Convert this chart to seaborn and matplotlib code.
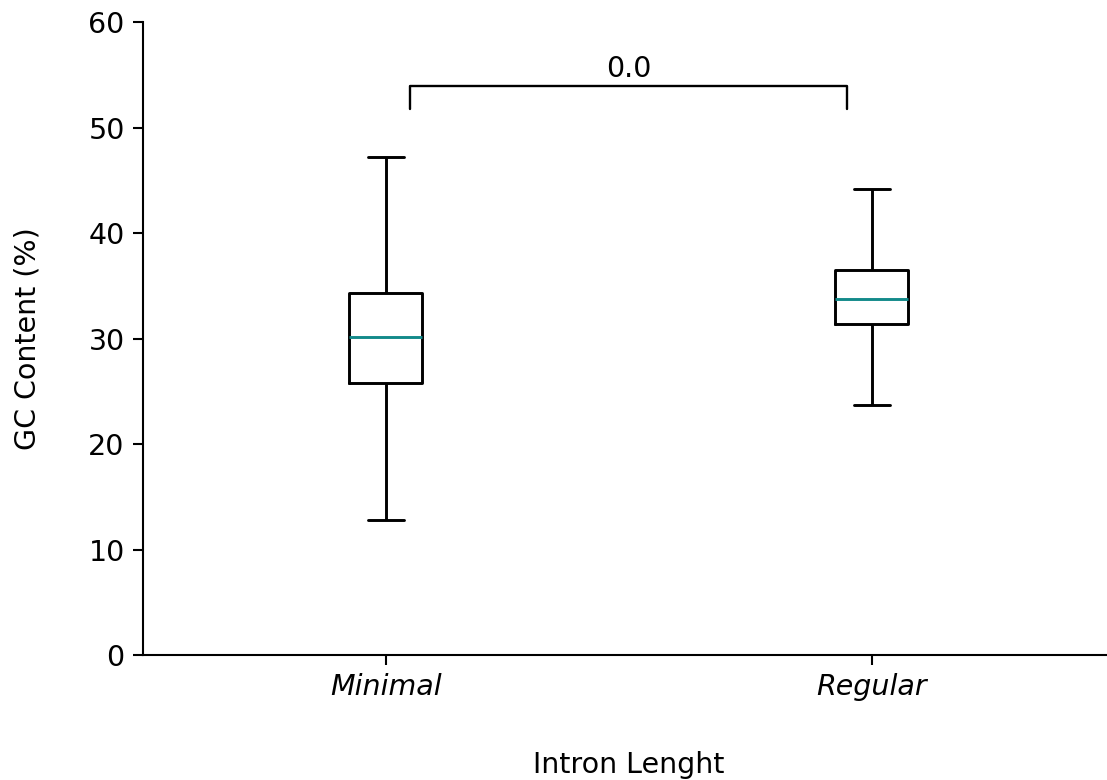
import matplotlib
matplotlib.use("Agg")
import matplotlib.pyplot as plt
import seaborn as sns
import pandas as pd

# Five-number summaries (min, Q1, median, Q3, max) of GC content per group
categories = ["Minimal", "Regular"]
minimal_gc = [12.8, 25.8, 30.2, 34.3, 47.2]
regular_gc = [23.7, 31.4, 33.8, 36.5, 44.2]
p_value_label = "0.0"
bracket_low, bracket_high = 51.8, 54.0

df = pd.DataFrame({
    "group": [categories[0]] * len(minimal_gc) + [categories[1]] * len(regular_gc),
    "gc": minimal_gc + regular_gc,
})

sns.set_style("ticks")
plt.rcParams["font.family"] = ["DejaVu Sans"]
plt.rcParams["text.color"] = "black"
plt.rcParams["axes.labelcolor"] = "black"
plt.rcParams["xtick.color"] = "black"
plt.rcParams["ytick.color"] = "black"
plt.rcParams["axes.edgecolor"] = "black"

fs = 20.5
fig = plt.figure(figsize=(11.07, 7.8), dpi=100)
ax = fig.add_axes([0.129, 0.160, 0.878, 0.8115])

lw = 2.1
sns.boxplot(
    data=df, x="group", y="gc", order=categories, ax=ax,
    whis=(0, 100), width=0.15, fill=False, color="black", linewidth=lw,
    medianprops=dict(color="#138a8a", linewidth=lw),
    capprops=dict(color="black", linewidth=lw),
    whiskerprops=dict(color="black", linewidth=lw),
    boxprops=dict(color="black", linewidth=lw),
)

# significance bracket between the two groups
ax.plot([0.05, 0.05, 0.95, 0.95], [bracket_low, bracket_high, bracket_high, bracket_low],
        color="black", linewidth=1.7)
ax.text(0.5, bracket_high + 0.25, p_value_label, ha="center", va="bottom", fontsize=fs)

ax.set_xlim(-0.5, 1.5)
ax.set_ylim(0, 60)
ax.set_yticks(range(0, 61, 10))
ax.set_xlabel("Intron Lenght", fontsize=fs, labelpad=36)
ax.set_ylabel("GC Content (%)", fontsize=fs, labelpad=34)
ax.tick_params(axis="both", labelsize=fs, width=1.5, length=7, pad=6)
for lab in ax.get_xticklabels():
    lab.set_fontstyle("italic")
for s in ("left", "bottom"):
    ax.spines[s].set_linewidth(1.5)
sns.despine(ax=ax)

fig.savefig("out.png", dpi=100)
